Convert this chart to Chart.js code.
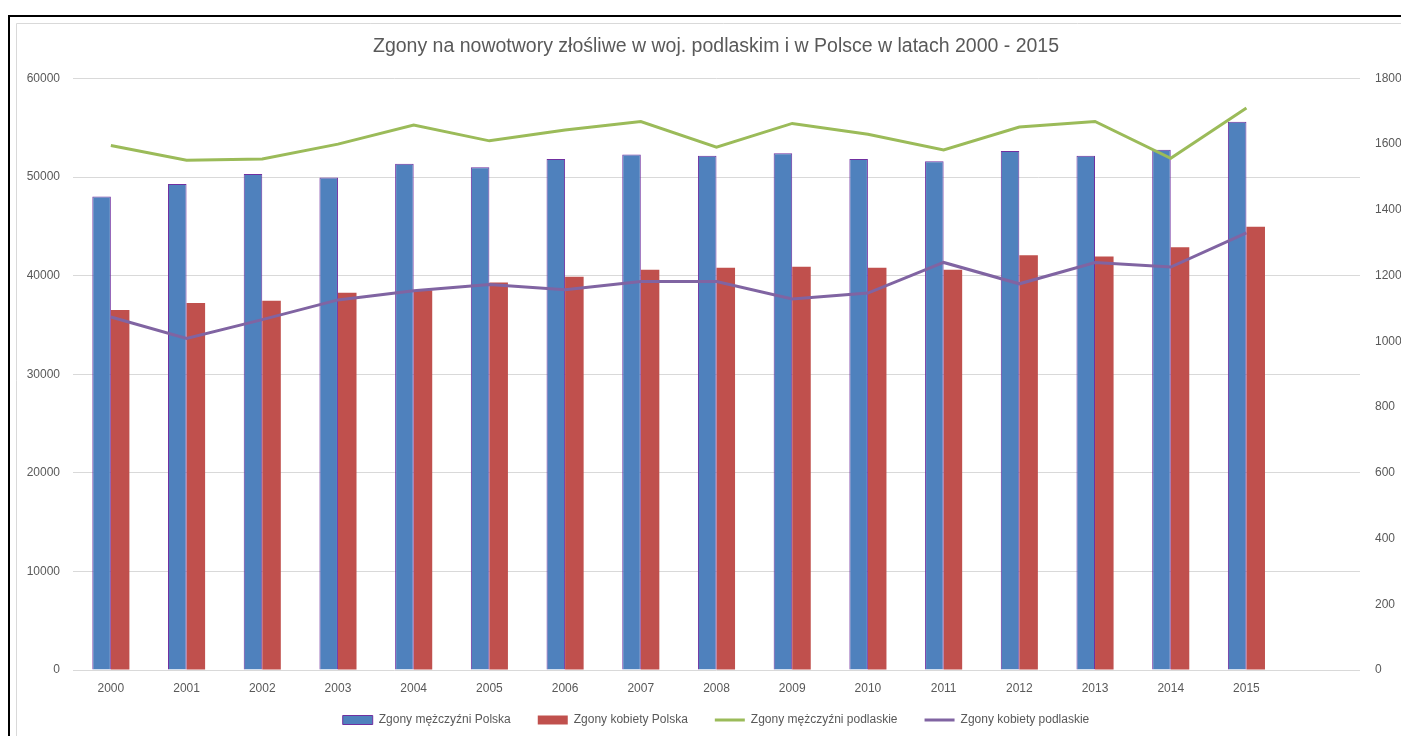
<!DOCTYPE html>
<html>
<head>
<meta charset="utf-8">
<script src="https://cdn.jsdelivr.net/npm/chart.js@4.4.1/dist/chart.umd.min.js"></script>
<style>
  html, body { margin: 0; padding: 0; background: #fff; overflow: hidden; }
  #wrap { position: absolute; left: 0; top: 0; width: 1430px; height: 736px; }
</style>
</head>
<body>
<div id="wrap"><canvas id="c" width="1430" height="736"></canvas></div>
<script>
const titleText = 'Zgony na nowotwory złośliwe w woj. podlaskim i w Polsce w latach 2000 - 2015';
const years = ['2000','2001','2002','2003','2004','2005','2006','2007','2008','2009','2010','2011','2012','2013','2014','2015',''];
const menPoland   = [48020, 49280, 50300, 49960, 51350, 50990, 51820, 52280, 52160, 52420, 51820, 51590, 52630, 52160, 52770, 55610, null];
const womenPoland = [36520, 37230, 37440, 38250, 38520, 39290, 39880, 40590, 40790, 40910, 40790, 40590, 42070, 41940, 42880, 44950, null];
const menPodlaskie   = [1596, 1551, 1555, 1600, 1658, 1610, 1643, 1669, 1591, 1663, 1630, 1582, 1652, 1669, 1557, 1710, null];
const womenPodlaskie = [1074, 1009, 1066, 1126, 1154, 1173, 1157, 1182, 1182, 1129, 1147, 1240, 1175, 1240, 1226, 1330, null];
const leftTicks = { min: 0, max: 60000, step: 10000 };
const rightTicks = { min: 0, max: 1800, step: 200 };

const TXT = '#595959';
const FONT = "'Liberation Sans', Arial, sans-serif";

const framePlugin = {
  id: 'frame',
  beforeDraw(chart) {
    const ctx = chart.ctx;
    ctx.save();
    ctx.fillStyle = '#fff';
    ctx.fillRect(0, 0, chart.width, chart.height);
    ctx.strokeStyle = '#000';
    ctx.lineWidth = 2;
    ctx.beginPath();
    ctx.moveTo(9, chart.height + 5);
    ctx.lineTo(9, 16);
    ctx.lineTo(chart.width + 5, 16);
    ctx.stroke();
    ctx.strokeStyle = '#d9d9d9';
    ctx.lineWidth = 1;
    ctx.beginPath();
    ctx.moveTo(16.5, chart.height + 5);
    ctx.lineTo(16.5, 23.5);
    ctx.lineTo(chart.width + 5, 23.5);
    ctx.stroke();
    ctx.restore();
  }
};

// nudge the legend up so it sits closer to the axis labels, like the original
const legendNudge = {
  id: 'legendNudge',
  afterLayout(chart) {
    const l = chart.legend;
    if (l) { l.top -= 9; l.bottom -= 9; }
  }
};

const plain = (v) => String(v);

new Chart(document.getElementById('c'), {
  data: {
    labels: years,
    datasets: [
      { type: 'bar', label: 'Zgony mężczyźni Polska', data: menPoland, yAxisID: 'y',
        backgroundColor: '#4F81BD', borderColor: '#7030A0', borderWidth: 1, pointStyle: 'rect', order: 1,
        categoryPercentage: 0.49, barPercentage: 1.0 },
      { type: 'bar', label: 'Zgony kobiety Polska', data: womenPoland, yAxisID: 'y',
        backgroundColor: '#C0504D', borderColor: '#C0504D', borderWidth: 0, pointStyle: 'rect', order: 1,
        categoryPercentage: 0.49, barPercentage: 1.0 },
      { type: 'line', label: 'Zgony mężczyźni podlaskie', data: menPodlaskie, yAxisID: 'y2',
        borderColor: '#9BBB59', backgroundColor: '#9BBB59', borderWidth: 3, pointRadius: 0,
        pointStyle: 'line', tension: 0, order: 0 },
      { type: 'line', label: 'Zgony kobiety podlaskie', data: womenPodlaskie, yAxisID: 'y2',
        borderColor: '#8064A2', backgroundColor: '#8064A2', borderWidth: 3, pointRadius: 0,
        pointStyle: 'line', tension: 0, order: 0 }
    ]
  },
  options: {
    responsive: false,
    animation: false,
    layout: { padding: { top: 26, left: 16, right: 14, bottom: 0 } },
    plugins: {
      title: {
        display: true, text: titleText, color: TXT,
        font: { family: FONT, size: 19.5, weight: 'normal' },
        padding: { top: 9, bottom: 20 }
      },
      legend: {
        position: 'bottom',
        maxHeight: 40,
        labels: {
          color: TXT, font: { family: FONT, size: 12 },
          usePointStyle: true, pointStyleWidth: 30, boxHeight: 9, padding: 27,
          sort: (a, b) => a.datasetIndex - b.datasetIndex
        }
      },
      tooltip: { enabled: false }
    },
    scales: {
      x: {
        grid: { display: false, drawTicks: false },
        border: { display: false },
        ticks: { color: TXT, font: { family: FONT, size: 12 }, padding: 11, maxRotation: 0, autoSkip: false },
        afterFit: (s) => { s.height = 26; }
      },
      y: {
        position: 'left', min: leftTicks.min, max: leftTicks.max,
        ticks: { stepSize: leftTicks.step, color: TXT, font: { family: FONT, size: 12 }, padding: 13, callback: plain },
        grid: { color: '#D9D9D9', lineWidth: 1, drawTicks: false },
        border: { display: false },
        afterFit: (s) => { s.width = 57; }
      },
      y2: {
        position: 'right', min: rightTicks.min, max: rightTicks.max,
        ticks: { stepSize: rightTicks.step, color: TXT, font: { family: FONT, size: 12 }, padding: 15, callback: plain },
        grid: { display: false, drawTicks: false },
        border: { display: false },
        afterFit: (s) => { s.width = 56; }
      }
    }
  },
  plugins: [framePlugin, legendNudge]
});
</script>
</body>
</html>
